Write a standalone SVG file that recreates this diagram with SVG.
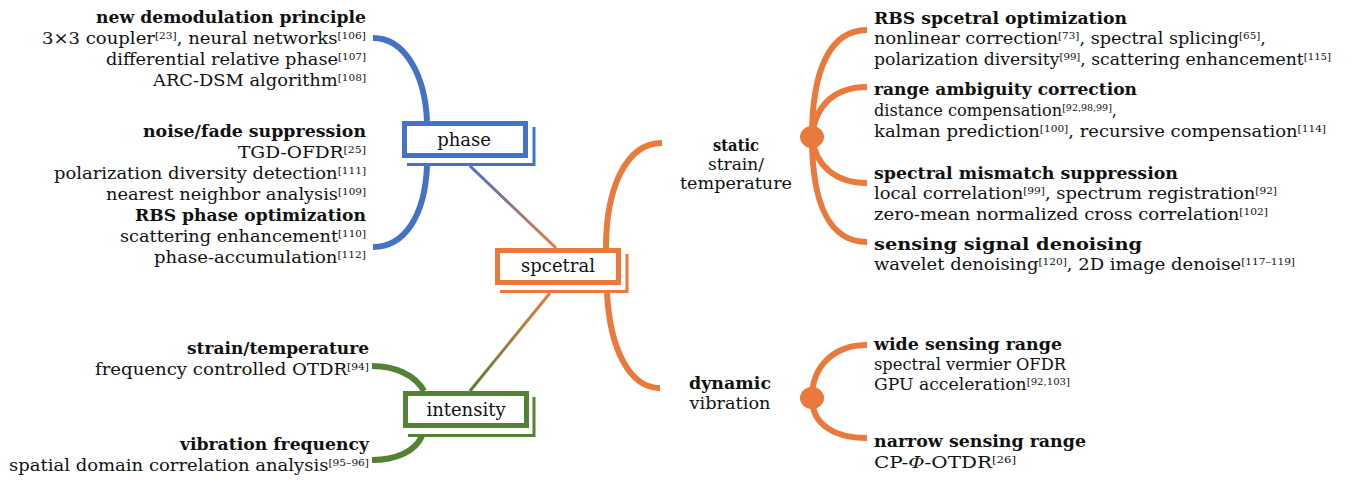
<svg xmlns="http://www.w3.org/2000/svg" width="1361" height="481" viewBox="0 0 1361 481">
<style>
text{font-family:"DejaVu Serif","Liberation Serif",serif;font-size:17px;fill:#111}
.b{font-weight:bold}
.s{font-size:10px}
.e{text-anchor:end}
.m{text-anchor:middle}
.bx{font-size:18px;text-anchor:middle}
.blue{stroke:#4472C4}
.org{stroke:#E97A3C}
.grn{stroke:#548235}
.arc{fill:none;stroke-width:6;stroke-linecap:butt}
.frame{fill:#fff;stroke-width:5}
.shadow{fill:none;stroke-width:3}
</style>
<defs>
<linearGradient id="g1" gradientUnits="userSpaceOnUse" x1="470" y1="166" x2="556" y2="248"><stop offset="0" stop-color="#4472C4"/><stop offset="1" stop-color="#E97A3C"/></linearGradient>
<linearGradient id="g2" gradientUnits="userSpaceOnUse" x1="550" y1="293" x2="470" y2="391"><stop offset="0" stop-color="#E97A3C"/><stop offset="1" stop-color="#548235"/></linearGradient>
</defs>
<g id="connectors">
<path class="arc blue" d="M373 38 C405 38 425 75 427 121"/>
<path class="arc blue" d="M427 166 C425 215 405 247 373 247"/>
<path class="arc grn" d="M372 366 C395 366 415 375 424 391"/>
<path class="arc grn" d="M422 436 C415 452 395 460 372 460"/>
<line x1="470" y1="166" x2="556" y2="248" stroke="url(#g1)" stroke-width="3"/>
<line x1="550" y1="293" x2="470" y2="391" stroke="url(#g2)" stroke-width="3"/>
<path class="arc org" d="M606 248 C606 190 625 143 662 143"/>
<path class="arc org" d="M607 293 C610 350 630 388 660 388"/>
<path class="arc org" d="M812 137 C812 70 830 30 867 30"/>
<path class="arc org" d="M812 137 C815 105 835 87 867 87"/>
<path class="arc org" d="M812 137 C815 165 835 183 867 183"/>
<path class="arc org" d="M812 137 C812 205 830 242 867 242"/>
<ellipse cx="812" cy="137" rx="12" ry="11" fill="#E97A3C"/>
<path class="arc org" d="M812 398 C812 365 835 345 867 345"/>
<path class="arc org" d="M812 398 C812 425 835 438 867 438"/>
<ellipse cx="812" cy="398" rx="12" ry="11" fill="#E97A3C"/>
</g>
<g id="phase">
<rect class="frame blue" x="404.5" y="123.5" width="121" height="32"/>
<path class="shadow blue" d="M534 127 V164.5 H407"/>
<text class="bx" x="464" y="146">phase</text>
</g>
<g id="spcetral">
<rect class="frame org" x="497.5" y="250.5" width="121" height="32"/>
<path class="shadow org" d="M627 254 V291.5 H500"/>
<text class="bx" x="558" y="272">spcetral</text>
</g>
<g id="intensity">
<rect class="frame grn" x="405.5" y="393.5" width="121" height="32"/>
<path class="shadow grn" d="M534 397 V435.5 H408"/>
<text class="bx" x="466" y="416">intensity</text>
</g>
<g id="phase-leaves">
<text class="b e" x="366" y="23" textLength="270" lengthAdjust="spacingAndGlyphs">new demodulation principle</text>
<text class="e" x="366" y="44" textLength="324" lengthAdjust="spacingAndGlyphs">3×3 coupler<tspan class="s" dy="-5">[23]</tspan><tspan dy="5">, neural networks</tspan><tspan class="s" dy="-5">[106]</tspan></text>
<text class="e" x="366" y="65" textLength="260" lengthAdjust="spacingAndGlyphs">differential relative phase<tspan class="s" dy="-5">[107]</tspan></text>
<text class="e" x="366" y="86" textLength="213" lengthAdjust="spacingAndGlyphs">ARC-DSM algorithm<tspan class="s" dy="-5">[108]</tspan></text>
<text class="b e" x="366" y="137" textLength="223" lengthAdjust="spacingAndGlyphs">noise/fade suppression</text>
<text class="e" x="366" y="158" textLength="128" lengthAdjust="spacingAndGlyphs">TGD-OFDR<tspan class="s" dy="-5">[25]</tspan></text>
<text class="e" x="366" y="179" textLength="312" lengthAdjust="spacingAndGlyphs">polarization diversity detection<tspan class="s" dy="-5">[111]</tspan></text>
<text class="e" x="366" y="200" textLength="260" lengthAdjust="spacingAndGlyphs">nearest neighbor analysis<tspan class="s" dy="-5">[109]</tspan></text>
<text class="b e" x="366" y="221" textLength="231" lengthAdjust="spacingAndGlyphs">RBS phase optimization</text>
<text class="e" x="366" y="242" textLength="246" lengthAdjust="spacingAndGlyphs">scattering enhancement<tspan class="s" dy="-5">[110]</tspan></text>
<text class="e" x="366" y="263" textLength="212" lengthAdjust="spacingAndGlyphs">phase-accumulation<tspan class="s" dy="-5">[112]</tspan></text>
</g>
<g id="intensity-leaves">
<text class="b e" x="369" y="354" textLength="182" lengthAdjust="spacingAndGlyphs">strain/temperature</text>
<text class="e" x="369" y="375" textLength="274" lengthAdjust="spacingAndGlyphs">frequency controlled OTDR<tspan class="s" dy="-5">[94]</tspan></text>
<text class="b e" x="369" y="450" textLength="189" lengthAdjust="spacingAndGlyphs">vibration frequency</text>
<text class="e" x="369" y="471" textLength="360" lengthAdjust="spacingAndGlyphs">spatial domain correlation analysis<tspan class="s" dy="-5">[95–96]</tspan></text>
</g>
<g id="static">
<text class="b m" x="736" y="151" textLength="46" lengthAdjust="spacingAndGlyphs">static</text>
<text class="m" x="736" y="170" textLength="56" lengthAdjust="spacingAndGlyphs">strain/</text>
<text class="m" x="736" y="189" textLength="112" lengthAdjust="spacingAndGlyphs">temperature</text>
</g>
<g id="dynamic">
<text class="b m" x="730" y="389" textLength="82" lengthAdjust="spacingAndGlyphs">dynamic</text>
<text class="m" x="730" y="409" textLength="81" lengthAdjust="spacingAndGlyphs">vibration</text>
</g>
<g id="static-leaves">
<text class="b" x="874" y="24" textLength="253" lengthAdjust="spacingAndGlyphs">RBS spcetral optimization</text>
<text x="874" y="44" textLength="392" lengthAdjust="spacingAndGlyphs">nonlinear correction<tspan class="s" dy="-5">[73]</tspan><tspan dy="5">, spectral splicing</tspan><tspan class="s" dy="-5">[65]</tspan><tspan dy="5">,</tspan></text>
<text x="874" y="65" textLength="457" lengthAdjust="spacingAndGlyphs">polarization diversity<tspan class="s" dy="-5">[99]</tspan><tspan dy="5">, scattering enhancement</tspan><tspan class="s" dy="-5">[115]</tspan></text>
<text class="b" x="874" y="95" textLength="263" lengthAdjust="spacingAndGlyphs">range ambiguity correction</text>
<text x="874" y="116" textLength="243" lengthAdjust="spacingAndGlyphs">distance compensation<tspan class="s" dy="-5">[92,98,99]</tspan><tspan dy="5">,</tspan></text>
<text x="874" y="137" textLength="452" lengthAdjust="spacingAndGlyphs">kalman prediction<tspan class="s" dy="-5">[100]</tspan><tspan dy="5">, recursive compensation</tspan><tspan class="s" dy="-5">[114]</tspan></text>
<text class="b" x="874" y="179" textLength="304" lengthAdjust="spacingAndGlyphs">spectral mismatch suppression</text>
<text x="874" y="199" textLength="403" lengthAdjust="spacingAndGlyphs">local correlation<tspan class="s" dy="-5">[99]</tspan><tspan dy="5">, spectrum registration</tspan><tspan class="s" dy="-5">[92]</tspan></text>
<text x="874" y="220" textLength="394" lengthAdjust="spacingAndGlyphs">zero-mean normalized cross correlation<tspan class="s" dy="-5">[102]</tspan></text>
<text class="b" x="874" y="250" textLength="268" lengthAdjust="spacingAndGlyphs">sensing signal denoising</text>
<text x="874" y="270" textLength="421" lengthAdjust="spacingAndGlyphs">wavelet denoising<tspan class="s" dy="-5">[120]</tspan><tspan dy="5">, 2D image denoise</tspan><tspan class="s" dy="-5">[117–119]</tspan></text>
</g>
<g id="dynamic-leaves">
<text class="b" x="874" y="350" textLength="188" lengthAdjust="spacingAndGlyphs">wide sensing range</text>
<text x="874" y="370" textLength="192" lengthAdjust="spacingAndGlyphs">spectral vermier OFDR</text>
<text x="874" y="390" textLength="196" lengthAdjust="spacingAndGlyphs">GPU acceleration<tspan class="s" dy="-5">[92,103]</tspan></text>
<text class="b" x="874" y="447" textLength="212" lengthAdjust="spacingAndGlyphs">narrow sensing range</text>
<text x="874" y="468" textLength="142" lengthAdjust="spacingAndGlyphs">CP-<tspan font-style="italic">Φ</tspan>-OTDR<tspan class="s" dy="-5">[26]</tspan></text>
</g>
</svg>
